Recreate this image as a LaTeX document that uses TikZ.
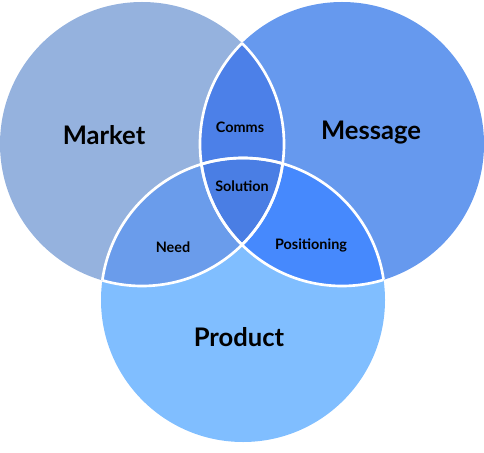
\documentclass[tikz,border=0pt]{standalone}
\usepackage{fontspec}
\setmainfont{Lato}
\definecolor{cmarket}{HTML}{95B2DE}
\definecolor{cmessage}{HTML}{6699EE}
\definecolor{cproduct}{HTML}{80BEFF}
\definecolor{ccomms}{HTML}{4C80E8}
\definecolor{cneed}{HTML}{6A9CEB}
\definecolor{cpos}{HTML}{4689FD}
\definecolor{csol}{HTML}{4A7EE4}
\begin{document}
\begin{tikzpicture}[x=0.75pt,y=-0.75pt,
  big/.style={font=\bfseries\fontsize{19.2}{22}\selectfont, text=black},
  small/.style={font=\bfseries\fontsize{10.8}{12}\selectfont, text=black},
  rim/.style={draw=white, line width=2pt}]
\useasboundingbox (0,0) rectangle (484,452);
\def\L{(142,144) circle (142)}
\def\R{(342,144) circle (142)}
\def\B{(243,300) circle (142)}
\fill[cmarket] \L;
\fill[cmessage] \R;
\fill[cproduct] \B;
\begin{scope}\clip \L; \fill[ccomms] \R; \end{scope}
\begin{scope}\clip \L; \fill[cneed] \B; \end{scope}
\begin{scope}\clip \R; \fill[cpos] \B; \end{scope}
\begin{scope}\clip \L; \clip \R; \fill[csol] \B; \end{scope}
\begin{scope}\clip \L; \draw[rim] \R; \draw[rim] \B; \end{scope}
\begin{scope}\clip \R; \draw[rim] \L; \draw[rim] \B; \end{scope}
\begin{scope}\clip \B; \draw[rim] \L; \draw[rim] \R; \end{scope}
\node[big] (market) at (104,135) {Market};
\node[big] (message) at (371,133) {Message};
\node[big] (product) at (239,337) {Product};
\node[small] (comms) at (240,127) {Comms};
\node[small] (solution) at (242,186) {Solution};
\node[small] (need) at (173,247) {Need};
\node[small] (positioning) at (311,245) {Positioning};
\end{tikzpicture}
\end{document}
